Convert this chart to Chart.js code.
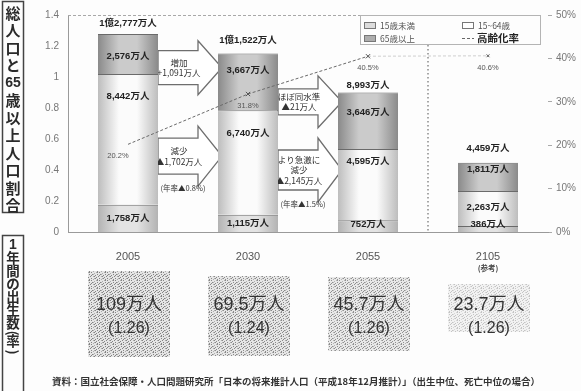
<!DOCTYPE html>
<html lang="ja">
<head>
<meta charset="utf-8">
<script src="https://cdn.jsdelivr.net/npm/chart.js@4.4.1/dist/chart.umd.min.js"></script>
<style>
  html, body { margin: 0; padding: 0; background: #fdfdfd; }
  canvas { display: block; }
</style>
</head>
<body>
<canvas id="pop" width="581" height="391"></canvas>
<script>
// 人口（万人）
const years = ['2005', '2030', '2055', '2105'];
const under15 = [1758, 1115, 752, 386];
const age15to64 = [8442, 6740, 4595, 2263];
const over65 = [2576, 3667, 3646, 1811];
const totals = [12777, 11522, 8993, 4459];
const agingRate = [20.2, 31.8, 40.5, 40.6];   // 高齢化率 %
const births = [109, 69.5, 45.7, 23.7];       // 出生数 万人
const fertility = [1.26, 1.24, 1.26, 1.26];   // 合計特殊出生率
const annualRate = ['(年率▲0.8%)', '(年率▲1.5%)'];
const leftTicks = [0, 0.2, 0.4, 0.6, 0.8, 1, 1.2, 1.4];
const rightTicks = [0, 10, 20, 30, 40, 50];

const NUM = '"Liberation Sans", "Noto Sans CJK JP", sans-serif';
const JP = '"Noto Sans CJK JP", sans-serif';

const man = v => v.toLocaleString('en-US') + '万人';
const oku = v => v >= 10000
  ? Math.floor(v / 10000) + '億' + (v % 10000).toLocaleString('en-US') + '万人'
  : man(v);

// cylinder-like shading across each bar
function shade(edge, mid) {
  return ctx => {
    const chart = ctx.chart;
    if (!chart.chartArea || ctx.dataIndex === undefined) return mid;
    const x = chart.scales.x;
    const cx = x.getPixelForValue(ctx.dataIndex);
    const half = x.width / years.length / 4;
    const g = chart.ctx.createLinearGradient(cx - half, 0, cx + half, 0);
    g.addColorStop(0, edge);
    g.addColorStop(0.35, mid);
    g.addColorStop(0.65, mid);
    g.addColorStop(1, edge);
    return g;
  };
}

function text(c, s, x, y, font, color, align) {
  c.font = font;
  c.fillStyle = color;
  c.textAlign = align || 'center';
  c.textBaseline = 'middle';
  c.fillText(s, x, y);
}

// halftone tile for the birth boxes
const tile = document.createElement('canvas');
tile.width = tile.height = 8;
(() => {
  const p = tile.getContext('2d');
  p.fillStyle = '#e4e4e4';
  p.fillRect(0, 0, 8, 8);
  const dots = [[0,0],[1,0],[3,0],[6,1],[1,2],[4,2],[5,2],[7,3],[2,4],[5,4],[0,5],[3,6],[6,6],[7,6],[1,7],[5,7],[3,3],[6,4]];
  dots.forEach(([x, y], i) => {
    p.fillStyle = i % 3 ? '#7e7e7e' : '#a8a8a8';
    p.fillRect(x, y, 1, 1);
  });
})();

const decor = {
  id: 'decor',
  beforeDraw(chart) {
    const c = chart.ctx;
    c.save();
    c.fillStyle = '#fdfdfd';
    c.fillRect(0, 0, chart.width, chart.height);
    c.restore();
  },
  beforeDatasetsDraw(chart) {
    const c = chart.ctx, x = chart.scales.x, y = chart.scales.y;
    const area = chart.chartArea;
    c.save();
    // top frame
    c.strokeStyle = '#a8a8a8';
    c.lineWidth = 1;
    c.setLineDash([3, 2]);
    c.beginPath();
    c.moveTo(area.left, area.top + 0.5);
    c.lineTo(area.right - 6, area.top + 0.5);
    c.stroke();
    // separator before the reference year
    const sx = (x.getPixelForValue(2) + x.getPixelForValue(3)) / 2;
    c.strokeStyle = '#8a8a8a';
    c.lineWidth = 1.5;
    c.setLineDash([1.5, 2.5]);
    c.beginPath();
    c.moveTo(sx, 45);
    c.lineTo(sx, area.bottom);
    c.stroke();
    c.setLineDash([]);

    // change arrows between bars
    const half = x.width / years.length / 4;
    const arrows = [
      { gap: 0, v: 1.06, body: 34, head: 54, lines: ['増加', '+' + man(over65[1] - over65[0])] },
      { gap: 0, v: 0.49, body: 36, head: 60, lines: ['減少', '▲' + man(age15to64[0] - age15to64[1])], note: annualRate[0] },
      { gap: 1, v: 0.84, body: 26, head: 52, lines: ['ほぼ同水準', '▲' + man(over65[1] - over65[2])] },
      { gap: 1, v: 0.40, body: 40, head: 64, lines: ['より急激に', '減少', '▲' + man(age15to64[1] - age15to64[2])], note: annualRate[1] }
    ];
    arrows.forEach(a => {
      const x0 = x.getPixelForValue(a.gap) + half;
      const tip = x.getPixelForValue(a.gap + 1) - half + 4;
      const x1 = tip - 24;
      const yc = y.getPixelForValue(a.v);
      c.beginPath();
      c.moveTo(x0, yc - a.body / 2);
      c.lineTo(x1, yc - a.body / 2);
      c.lineTo(x1, yc - a.head / 2);
      c.lineTo(tip, yc);
      c.lineTo(x1, yc + a.head / 2);
      c.lineTo(x1, yc + a.body / 2);
      c.lineTo(x0, yc + a.body / 2);
      c.closePath();
      c.fillStyle = '#ffffff';
      c.fill();
      c.strokeStyle = '#6e6e6e';
      c.lineWidth = 1.3;
      c.stroke();
      const tx = x0 + 21;
      const step = 10.5;
      const y0 = yc - (a.lines.length - 1) * step / 2;
      a.lines.forEach((s, i) => text(c, s, tx, y0 + i * step, '8.5px ' + JP, '#333'));
      if (a.note) text(c, a.note, tx + 4, yc + a.head / 2 + 2, '7.5px ' + JP, '#333');
    });
    c.restore();
  },
  afterDatasetsDraw(chart) {
    const c = chart.ctx;
    const lowMeta = chart.getDatasetMeta(0).data;
    const midMeta = chart.getDatasetMeta(1).data;
    const topMeta = chart.getDatasetMeta(2).data;
    const lineMeta = chart.getDatasetMeta(3).data;
    const topDy = [22, 17, 20, 7];
    const midDy = [22, 23, 12, 16];
    const totalDy = [11, 13, 7, 14];
    const bold = 'bold 9.5px ' + NUM;
    c.save();
    years.forEach((yr, i) => {
      const lo = lowMeta[i], mid = midMeta[i], top = topMeta[i];
      text(c, man(under15[i]), lo.x, Math.min((lo.y + lo.base) / 2, lo.base - 8), bold, '#222');
      text(c, man(age15to64[i]), mid.x, mid.y + midDy[i], bold, '#222');
      text(c, man(over65[i]), top.x, top.y + topDy[i], bold, '#222');
      text(c, oku(totals[i]), top.x, top.y - totalDy[i], bold, '#222');
      const p = lineMeta[i];
      text(c, agingRate[i].toFixed(1) + '%', p.x - (i === 0 ? 10 : 0), p.y + 12, '7.5px ' + NUM, '#555');
    });
    c.restore();
  },
  afterDraw(chart) {
    const c = chart.ctx, x = chart.scales.x;
    c.save();

    // legend
    c.strokeStyle = '#b4b4b4';
    c.lineWidth = 1;
    c.strokeRect(360.5, 15.5, 180, 29);
    const sw = [
      { x: 364, y: 22, fill: '#dcdcdc', label: '15歳未満' },
      { x: 462, y: 22, fill: '#ffffff', label: '15~64歳' },
      { x: 364, y: 35, fill: '#adadad', label: '65歳以上' }
    ];
    sw.forEach(s => {
      c.fillStyle = s.fill;
      c.fillRect(s.x, s.y, 12, 7);
      c.strokeStyle = '#777';
      c.strokeRect(s.x + 0.5, s.y + 0.5, 11, 6);
      text(c, s.label, s.x + 16, s.y + 3.5, '8.5px ' + JP, '#555', 'left');
    });
    c.strokeStyle = '#666';
    c.setLineDash([3, 2]);
    c.beginPath();
    c.moveTo(462, 38.5);
    c.lineTo(474, 38.5);
    c.stroke();
    c.setLineDash([]);
    text(c, '高齢化率', 477, 38.5, 'bold 10.5px ' + JP, '#222', 'left');

    // reference-year note
    text(c, '(参考)', x.getPixelForValue(3), 268, 'bold 7.5px ' + JP, '#444');

    // side titles
    c.strokeStyle = '#444';
    c.lineWidth = 1.5;
    c.strokeRect(2.5, 1.5, 21, 211);
    c.strokeRect(2.5, 235.5, 21, 170);
    const t1 = ['総', '人', '口', 'と', '65', '歳', '以', '上', '人', '口', '割', '合'];
    t1.forEach((s, i) => {
      c.font = s === '65' ? 'bold 14px ' + NUM : 'bold 15px ' + JP;
      c.fillStyle = '#2a2a2a';
      c.textAlign = 'center';
      c.textBaseline = 'middle';
      c.fillText(s, 13, 13 + i * 17.5, 17);
    });
    const t2 = ['1', '年', '間', 'の', '出', '生', '数', '(', '率', ')'];
    const t2y = [245, 258, 271, 284, 297, 310, 323, 333, 341, 352];
    t2.forEach((s, i) => {
      c.save();
      c.translate(13, t2y[i]);
      if (s === '(' || s === ')') c.rotate(Math.PI / 2);
      c.font = (s === '1' ? 'bold 14px ' + NUM : 'bold 13.5px ' + JP);
      c.fillStyle = '#2a2a2a';
      c.textAlign = 'center';
      c.textBaseline = 'middle';
      c.fillText(s, 0, 0);
      c.restore();
    });

    // births per year
    const boxTop = [271, 276, 277, 284];
    const boxH = [86, 80, 74, 48];
    const boxAlpha = [0.95, 0.9, 0.85, 0.45];
    const pattern = c.createPattern(tile, 'repeat');
    years.forEach((yr, i) => {
      const cx = x.getPixelForValue(i);
      c.save();
      c.globalAlpha = boxAlpha[i];
      c.filter = 'blur(0.6px)';
      c.fillStyle = pattern;
      c.fillRect(cx - 40, boxTop[i], 82, boxH[i]);
      c.restore();
      text(c, births[i] + '万人', cx + 1, 305, '18px ' + NUM, '#333');
      text(c, '(' + fertility[i].toFixed(2) + ')', cx + 1, 329, '16px ' + NUM, '#333');
    });

    // source
    c.font = 'bold 9.5px ' + JP;
    c.fillStyle = '#333';
    c.textAlign = 'left';
    c.textBaseline = 'middle';
    c.fillText('資料：国立社会保障・人口問題研究所「日本の将来推計人口（平成18年12月推計）」（出生中位、死亡中位の場合）', 52, 381, 527);
    c.restore();
  }
};

const barBase = {
  type: 'bar',
  yAxisID: 'y',
  barPercentage: 0.5,
  categoryPercentage: 1,
  borderColor: '#6a6a6a',
  borderWidth: { top: 1, bottom: 0, left: 0, right: 0 },
  borderSkipped: false,
  order: 2
};

new Chart(document.getElementById('pop'), {
  data: {
    labels: years,
    datasets: [
      { ...barBase, label: '15歳未満', data: under15.map(v => v / 10000), backgroundColor: shade('#b3b3b3', '#e3e3e3') },
      { ...barBase, label: '15~64歳', data: age15to64.map(v => v / 10000), backgroundColor: shade('#bdbdbd', '#fbfbfb') },
      { ...barBase, label: '65歳以上', data: over65.map(v => v / 10000), backgroundColor: shade('#8a8a8a', '#cbcbcb') },
      {
        type: 'line',
        label: '高齢化率',
        data: agingRate,
        yAxisID: 'y2',
        borderColor: '#6a6a6a',
        borderWidth: 1,
        borderDash: [3, 2],
        pointStyle: 'crossRot',
        pointRadius: [0, 3, 3, 2],
        pointBorderColor: '#555',
        pointBorderWidth: 1,
        fill: false,
        order: 0,
        segment: { borderColor: s => s.p0DataIndex === 2 ? 'rgba(120,120,120,0.35)' : undefined }
      }
    ]
  },
  options: {
    responsive: false,
    animation: false,
    devicePixelRatio: 1,
    layout: { padding: { top: 11, left: 0, right: 0, bottom: 0 } },
    plugins: { legend: { display: false }, tooltip: { enabled: false } },
    scales: {
      x: {
        stacked: true,
        grid: { display: false, drawTicks: false },
        border: { color: '#9a9a9a' },
        ticks: { color: '#555', font: { family: NUM, size: 11 }, padding: 18 },
        afterFit: s => { s.height = 159; }
      },
      y: {
        stacked: true,
        min: 0,
        max: 1.4,
        grid: { display: false, drawTicks: false },
        border: { color: '#9a9a9a', dash: [2, 2] },
        ticks: {
          stepSize: 0.2,
          padding: 9,
          color: '#777',
          font: { family: NUM, size: 10 },
          callback: v => leftTicks.includes(+v.toFixed(1)) ? String(+v.toFixed(1)) : ''
        },
        afterFit: s => { s.width = 68; }
      },
      y2: {
        position: 'right',
        min: 0,
        max: 50,
        grid: { drawOnChartArea: false, tickLength: 4, color: '#aaa' },
        border: { display: false },
        ticks: {
          stepSize: 10,
          padding: 4,
          color: '#777',
          font: { family: NUM, size: 10 },
          callback: v => rightTicks.includes(v) ? v + '%' : ''
        },
        afterFit: s => { s.width = 33; }
      }
    }
  },
  plugins: [decor]
});
</script>
</body>
</html>
